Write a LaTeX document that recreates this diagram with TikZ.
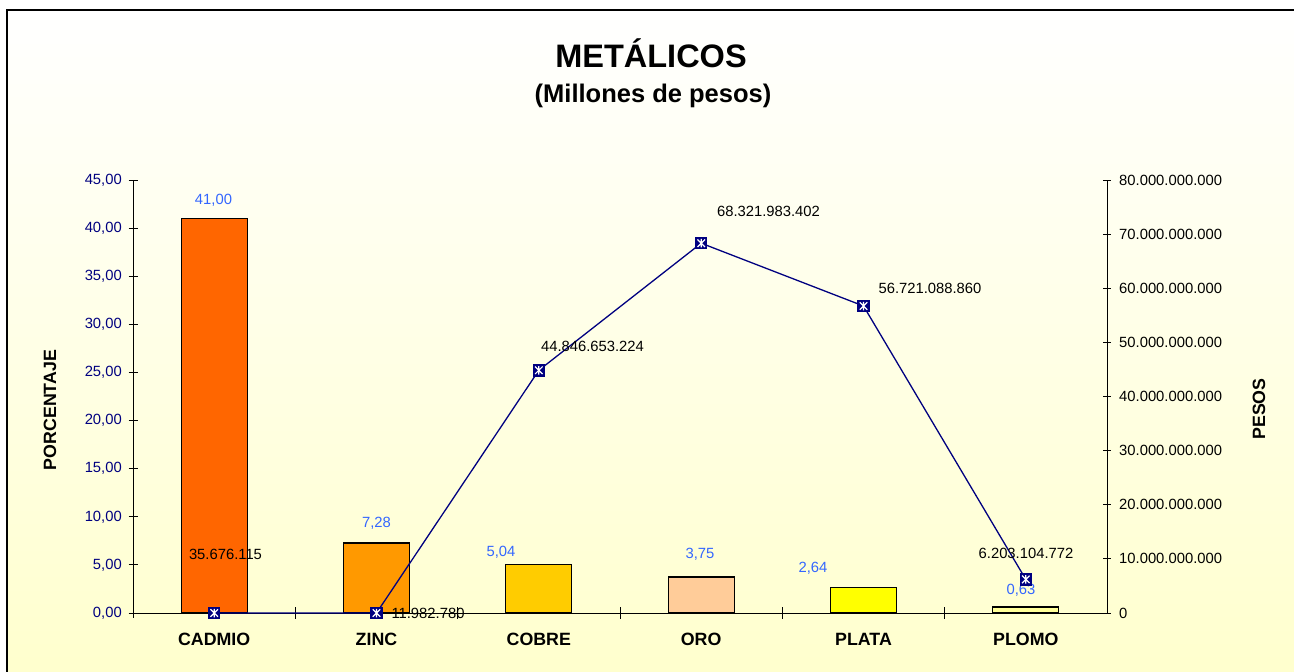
\documentclass[tikz,border=0pt]{standalone}
\usepackage{fontspec}
\setmainfont{Liberation Sans}
\definecolor{navyline}{RGB}{0,0,128}
\definecolor{valblue}{RGB}{51,102,255}
\definecolor{bgyellow}{RGB}{255,255,204}
\definecolor{cadmio}{RGB}{255,102,0}
\definecolor{zinc}{RGB}{255,153,0}
\definecolor{cobre}{RGB}{255,204,0}
\definecolor{oro}{RGB}{255,204,153}
\definecolor{plata}{RGB}{255,255,0}
\definecolor{plomo}{RGB}{255,255,153}

\begin{document}
\begin{tikzpicture}[x=1pt,y=-1pt,
  axisline/.style={line width=0.9pt,black},
  bar/.style={draw=black,line width=1.2pt},
  ticklab/.style={font=\fontsize{14.8}{16}\selectfont,inner sep=0pt},
  vallab/.style={font=\fontsize{14.8}{16}\selectfont,text=valblue,inner sep=0pt},
  linelab/.style={font=\fontsize{14.8}{16}\selectfont,inner sep=0pt},
  catlab/.style={font=\bfseries\fontsize{17.8}{20}\selectfont,inner sep=0pt},
  xbox/.style={rectangle,fill=navyline,minimum size=12.5pt,inner sep=0pt,
    path picture={
      \draw[white,line width=1.2pt]
        ([shift={(2.5pt,2.5pt)}]path picture bounding box.south west) --
        ([shift={(-2.5pt,-2.5pt)}]path picture bounding box.north east)
        ([shift={(2.5pt,-2.5pt)}]path picture bounding box.north west) --
        ([shift={(-2.5pt,2.5pt)}]path picture bounding box.south east)
        ([shift={(0pt,-2pt)}]path picture bounding box.north) --
        ([shift={(0pt,2pt)}]path picture bounding box.south);
    }}]
\useasboundingbox (0,0) rectangle (1294,672);
\shade[top color=white,bottom color=bgyellow] (7,10) rectangle (1310,690);
\draw[line width=1.5pt] (7,690) -- (7,10) -- (1310,10);

\node[font=\bfseries\fontsize{32.5}{36}\selectfont,inner sep=0pt] (title) at (651,53) {METÁLICOS};
\node[font=\bfseries\fontsize{25.5}{28}\selectfont,inner sep=0pt] (subtitle) at (653,96) {(Millones de pesos)};

\foreach \name/\val/\col [count=\i] in
  {CADMIO/41.00/cadmio,ZINC/7.28/zinc,COBRE/5.04/cobre,ORO/3.75/oro,PLATA/2.64/plata,PLOMO/0.63/plomo}{
  \pgfmathsetmacro\cx{133+(\i-0.5)*162.333}
  \draw[bar,fill=\col] (\cx-33,613) rectangle (\cx+33,613-\val*9.6222);
  \node[catlab] (cat\i) at (\cx,639) {\name};
}

\draw[axisline] (133,613) -- (1107,613);
\draw[axisline] (133,180) -- (133,618);
\draw[axisline] (1107,180) -- (1107,613);
\foreach \i in {0,...,9}{
  \pgfmathtruncatemacro\v{5*\i}
  \draw[axisline] (128.5,613-\i*48.111) -- (137.5,613-\i*48.111);
  \node[ticklab,text=navyline,anchor=east] (yl\i) at (122,613-\i*48.111) {\v,00};
}
\foreach \i in {0,...,8}{
  \draw[axisline] (1103,613-\i*54.125) -- (1111,613-\i*54.125);
  \node[ticklab,anchor=west] (yr\i) at (1119,613-\i*54.125) {\ifnum\i=0 0\else\i0.000.000.000\fi};
}
\foreach \i in {1,...,5}
  \draw[axisline] (133+\i*162.333,607) -- (133+\i*162.333,619);

\node[catlab,rotate=90] (ylab) at (50,410) {PORCENTAJE};
\node[catlab,rotate=90] (yrlab) at (1259,409) {PESOS};

\node[vallab] (v1) at (213.5,200) {41,00};
\node[vallab] (v2) at (376.5,523) {7,28};
\node[vallab] (v3) at (501,552) {5,04};
\node[vallab] (v4) at (700,554) {3,75};
\node[vallab] (v5) at (813,568) {2,64};
\node[vallab] (v6) at (1021,590) {0,63};

\coordinate (p1) at (214.2,613);
\coordinate (p2) at (376.5,613);
\coordinate (p3) at (538.8,370.3);
\coordinate (p4) at (701.2,243.2);
\coordinate (p5) at (863.5,306.0);
\coordinate (p6) at (1025.8,579.4);
\draw[navyline,line width=1.3pt] (p1) -- (p2) -- (p3) -- (p4) -- (p5) -- (p6);
\foreach \j in {1,...,6}
  \node[xbox] (m\j) at (p\j) {};

\node[linelab] (l1) at (225.5,554) {35.676.115};
\node[linelab] (l2) at (428,613) {11.982.780};
\node[linelab] (l3) at (592.5,346) {44.846.653.224};
\node[linelab] (l4) at (768.5,211) {68.321.983.402};
\node[linelab] (l5) at (930,288.5) {56.721.088.860};
\node[linelab] (l6) at (1026,553) {6.203.104.772};
\end{tikzpicture}
\end{document}
